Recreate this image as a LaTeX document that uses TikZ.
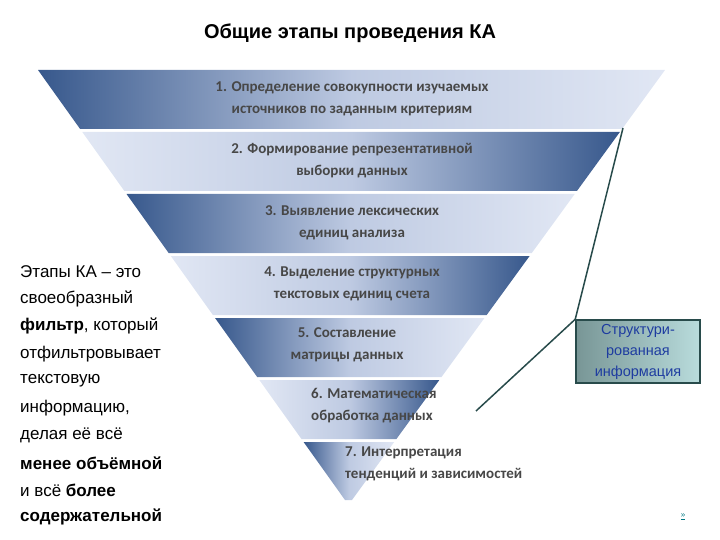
\documentclass[tikz,border=0pt]{standalone}
\usepackage{fontspec}
\setmainfont{Liberation Sans}
\newfontfamily\calfnt{Carlito}
\definecolor{dk}{RGB}{55,88,140}
\definecolor{lt}{RGB}{225,231,244}
\definecolor{md}{RGB}{190,202,226}
\definecolor{tealline}{RGB}{40,75,75}
\definecolor{boxa}{RGB}{120,150,150}
\definecolor{boxb}{RGB}{185,220,220}
\definecolor{boxt}{RGB}{30,60,160}
\definecolor{lnk}{RGB}{0,120,130}
\begin{document}
\begin{tikzpicture}[x=1pt,y=-1pt,
  lab/.style={font=\calfnt\bfseries\fontsize{15}{22}\selectfont,text=black!72,align=center},
  side/.style={font=\fontsize{17}{27}\selectfont,anchor=west,inner sep=0pt}]
\useasboundingbox (0,0) rectangle (720,540);
\foreach \t/\i in {70/1,132/2,194/3,256/4,318/5,380/6,442/7}{
  \pgfmathsetmacro\b{\t+59}
  \ifnum\i=7 \def\b{500}\fi
  \pgfmathsetmacro\a{38+0.71395*(\t-70)}
  \pgfmathsetmacro\c{665-0.72791*(\t-70)}
  \pgfmathsetmacro\d{38+0.71395*(\b-70)}
  \pgfmathsetmacro\e{665-0.72791*(\b-70)}
  \ifodd\i
    \shade[left color=dk,right color=lt,middle color=md]
      (\a,\t) -- (\c,\t) -- (\e,\b) -- (\d,\b) -- cycle;
  \else
    \shade[right color=dk,left color=lt,middle color=md]
      (\a,\t) -- (\c,\t) -- (\e,\b) -- (\d,\b) -- cycle;
  \fi
}
\node[font=\bfseries\fontsize{20}{24}\selectfont] (title) at (350,33) {Общие этапы проведения КА};
\node[lab] (s1) at (352,99) {1. Определение совокупности изучаемых\\источников по заданным критериям};
\node[lab] (s2) at (352,161) {2. Формирование репрезентативной\\выборки данных};
\node[lab] (s3) at (352,223) {3. Выявление лексических\\единиц анализа};
\node[lab] (s4) at (352,284) {4. Выделение структурных\\текстовых единиц счета};
\node[lab] (s5) at (347,345) {5. Составление\\матрицы данных};
\node[lab,align=left,anchor=west,inner sep=0pt] (s6) at (311,406) {6. Математическая\\обработка данных};
\node[lab,align=left,anchor=west,inner sep=0pt] (s7) at (345,464) {7. Интерпретация\\тенденций и зависимостей};
\node[side] (l1) at (20,272) {Этапы КА – это};
\node[side] (l2) at (20,299) {своеобразный};
\node[side] (l3) at (20,326) {\textbf{фильтр}, который};
\node[side] (l4) at (20,354) {отфильтровывает};
\node[side] (l5) at (20,381) {текстовую};
\node[side] (l6) at (20,408) {информацию,};
\node[side] (l7) at (20,435) {делая её всё};
\node[side] (l8) at (20,463) {\textbf{менее объёмной}};
\node[side] (l9) at (20,490) {и всё \textbf{более}};
\node[side] (l10) at (20,517) {\textbf{содержательной}};
\coordinate (p1) at (623,128);
\coordinate (p2) at (476,411);
\node[draw=tealline,line width=1.5pt,minimum width=124,minimum height=63,inner sep=1pt,
  left color=boxa,right color=boxb,
  font=\fontsize{14.5}{21}\selectfont,text=boxt,align=center] (box) at (638,351.5)
  {Структури-\\рованная\\информация};
\draw[tealline,line width=1.5pt] (p1) -- (box.north west) -- (p2);
\node[font=\fontsize{8}{9}\selectfont,text=lnk] (nx) at (683,517) {\underline{>>}};
\end{tikzpicture}
\end{document}
